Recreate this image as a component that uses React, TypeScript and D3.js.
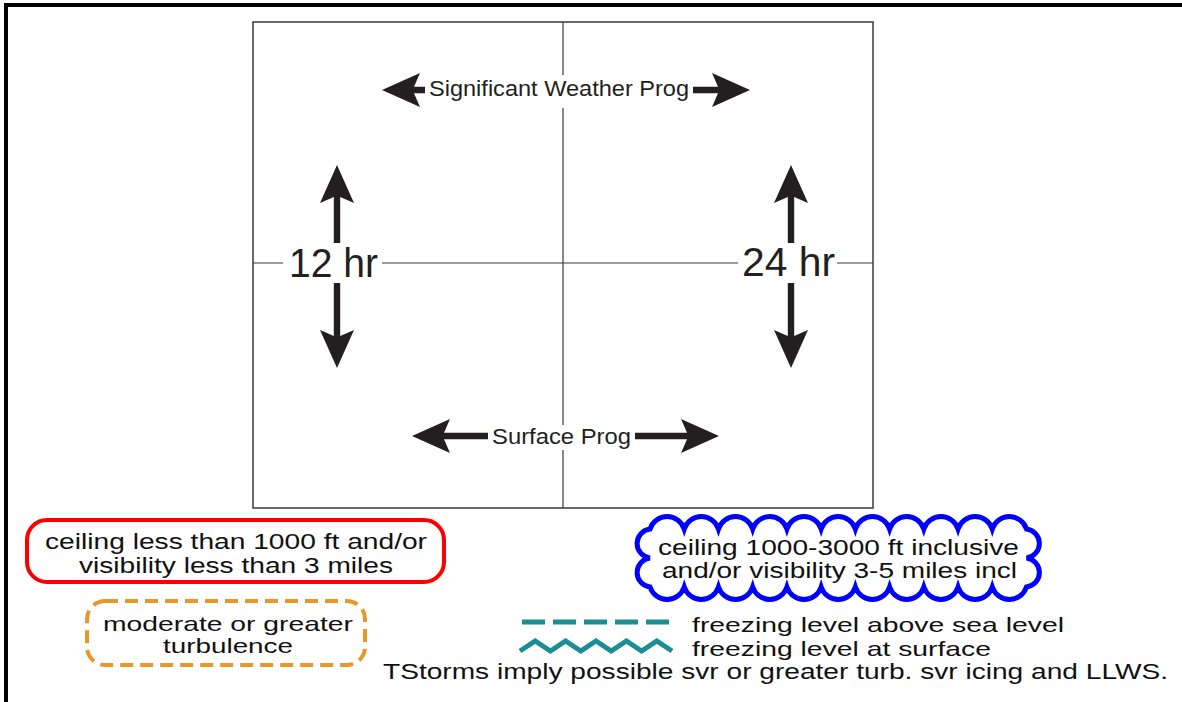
import React from 'react';
import { line, scaleLinear } from 'd3';

const width = 1182;
const height = 702;

// diagram content
const progLabels = ['Significant Weather Prog', 'Surface Prog'];
const hourLabels = ['12 hr', '24 hr'];
const ifrLines = ['ceiling less than 1000 ft and/or', 'visibility less than 3 miles'];
const mvfrLines = ['ceiling 1000-3000 ft inclusive', 'and/or visibility 3-5 miles incl'];
const turbLines = ['moderate or greater', 'turbulence'];
const freezingLabels = ['freezing level above sea level', 'freezing level at surface'];
const footNote = 'TStorms imply possible svr or greater turb. svr icing and LLWS.';

const font = "'Liberation Sans', Arial, sans-serif";
const ink = '#231f20';
const teal = '#1a8e94';

// panel box
const px = scaleLinear().domain([0, 1]).range([253, 873]);
const py = scaleLinear().domain([0, 1]).range([22, 508]);
const midX = 563;
const midY = 263;

// arrow pointing at tip, shaft running `len` px back toward the label
function Arrow({ x, y, angle, len }: { x: number; y: number; angle: number; len: number }) {
  const L = 38, hw = 17, notch = 6, sw = 3.2;
  const d = `M0,0 L${L},${-hw} L${L - notch},${-sw} L${len},${-sw} L${len},${sw} L${L - notch},${sw} L${L},${hw} Z`;
  return <path d={d} fill={ink} transform={`translate(${x},${y}) rotate(${angle})`} />;
}

function cloudPath(xL: number, xR: number, yT: number, yB: number, nTop: number, nSide: number) {
  const w = (xR - xL) / nTop;
  const h = (yB - yT) / nSide;
  const rT = 18, rS = 14.6;
  let d = `M${xL},${yT}`;
  for (let i = 1; i <= nTop; i++) d += ` A${rT},${rT} 0 0 1 ${xL + i * w},${yT}`;
  for (let i = 1; i <= nSide; i++) d += ` A${rS},${rS} 0 0 1 ${xR},${yT + i * h}`;
  for (let i = 1; i <= nTop; i++) d += ` A${rT},${rT} 0 0 1 ${xR - i * w},${yB}`;
  for (let i = 1; i <= nSide; i++) d += ` A${rS},${rS} 0 0 1 ${xL},${yB - i * h}`;
  return d + ' Z';
}

const zigzag = line<number>()
  .x(i => 520 + i * 15.2)
  .y(i => (i % 2 === 0 ? 651 : 641));

function App() {
  const zigIdx = Array.from({ length: 11 }, (_, i) => i);
  return (
    <svg width={width} height={height} style={{ position: 'absolute', left: 0, top: 0, background: '#fff' }}
      fontFamily={font}>
      <rect x={0} y={0} width={width} height={height} fill="#fff" />
      {/* outer frame */}
      <rect x={6} y={5} width={1300} height={900} fill="none" stroke="#000" strokeWidth={4} />

      {/* panel box and quadrants */}
      <rect x={px(0)} y={py(0)} width={px(1) - px(0)} height={py(1) - py(0)} fill="none" stroke="#3a3a3a" strokeWidth={1.5} />
      <line x1={midX} x2={midX} y1={py(0)} y2={py(1)} stroke="#3a3a3a" strokeWidth={1.2} />
      <line x1={px(0)} x2={px(1)} y1={midY} y2={midY} stroke="#3a3a3a" strokeWidth={1.2} />

      {/* Significant Weather Prog */}
      <rect x={426} y={75} width={266} height={33} fill="#fff" />
      <text x={559} y={96} textAnchor="middle" fontSize={22} fill={ink} textLength={260} lengthAdjust="spacingAndGlyphs">{progLabels[0]}</text>
      <Arrow x={382} y={90} angle={0} len={43} />
      <Arrow x={750} y={90} angle={180} len={57} />

      {/* Surface Prog */}
      <rect x={489} y={425} width={145} height={25} fill="#fff" />
      <text x={561.5} y={444} textAnchor="middle" fontSize={22} fill={ink} textLength={139} lengthAdjust="spacingAndGlyphs">{progLabels[1]}</text>
      <Arrow x={412} y={436} angle={0} len={76} />
      <Arrow x={719} y={436} angle={180} len={84} />

      {/* 12 hr / 24 hr */}
      <rect x={283} y={244} width={99} height={38} fill="#fff" />
      <text x={333.5} y={277} textAnchor="middle" fontSize={40} fill={ink} textLength={89} lengthAdjust="spacingAndGlyphs">{hourLabels[0]}</text>
      <Arrow x={337} y={165} angle={90} len={78} />
      <Arrow x={337} y={368} angle={-90} len={85} />
      <rect x={738} y={244} width={99} height={38} fill="#fff" />
      <text x={788.5} y={276} textAnchor="middle" fontSize={40} fill={ink} textLength={93} lengthAdjust="spacingAndGlyphs">{hourLabels[1]}</text>
      <Arrow x={791} y={165} angle={90} len={78} />
      <Arrow x={791} y={368} angle={-90} len={85} />

      {/* IFR legend */}
      <rect x={27} y={520} width={417} height={62} rx={20} fill="#fff" stroke="#f00" strokeWidth={4} />
      <text x={236} y={549} textAnchor="middle" fontSize={22} fill="#111" textLength={382} lengthAdjust="spacingAndGlyphs">{ifrLines[0]}</text>
      <text x={236} y={573} textAnchor="middle" fontSize={22} fill="#111" textLength={314} lengthAdjust="spacingAndGlyphs">{ifrLines[1]}</text>

      {/* turbulence legend */}
      <rect x={87} y={601} width={278} height={64} rx={18} fill="#fff" stroke="#e8982b" strokeWidth={4} strokeDasharray="13 7" />
      <text x={228} y={631} textAnchor="middle" fontSize={21} fill="#111" textLength={250} lengthAdjust="spacingAndGlyphs">{turbLines[0]}</text>
      <text x={228} y={653} textAnchor="middle" fontSize={21} fill="#111" textLength={130} lengthAdjust="spacingAndGlyphs">{turbLines[1]}</text>

      {/* MVFR cloud legend */}
      <path d={cloudPath(650, 1026.5, 529, 587, 11, 2)} fill="#fff" stroke="#0000ff" strokeWidth={5} />
      <text x={838.5} y={555} textAnchor="middle" fontSize={22} fill="#111" textLength={361} lengthAdjust="spacingAndGlyphs">{mvfrLines[0]}</text>
      <text x={839.5} y={578} textAnchor="middle" fontSize={22} fill="#111" textLength={355} lengthAdjust="spacingAndGlyphs">{mvfrLines[1]}</text>

      {/* freezing level legend */}
      <line x1={522} x2={669} y1={622} y2={622} stroke={teal} strokeWidth={5} strokeDasharray="23 8" />
      <path d={zigzag(zigIdx) ?? ''} fill="none" stroke={teal} strokeWidth={5} />
      <text x={692} y={632} fontSize={21} fill="#111" textLength={372} lengthAdjust="spacingAndGlyphs">{freezingLabels[0]}</text>
      <text x={692} y={656} fontSize={21} fill="#111" textLength={299} lengthAdjust="spacingAndGlyphs">{freezingLabels[1]}</text>
      <text x={383} y={679} fontSize={22} fill="#111" textLength={785} lengthAdjust="spacingAndGlyphs">{footNote}</text>
    </svg>
  );
}

export default App;
